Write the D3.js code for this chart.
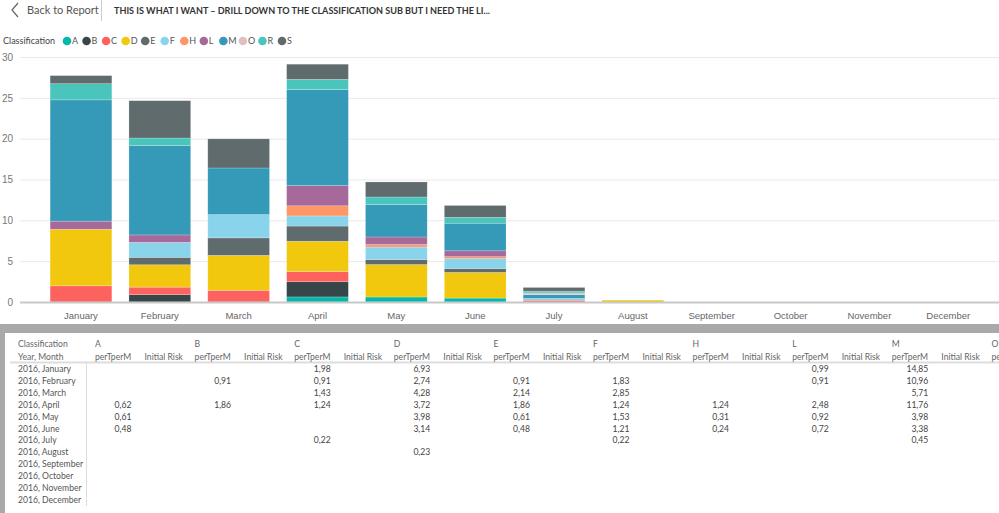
<!DOCTYPE html>
<html>
<head>
<meta charset="utf-8">
<script src="https://cdn.jsdelivr.net/npm/d3@7"></script>
<style>
  html, body { margin: 0; padding: 0; background: #fff; }
  svg { display: block; font-family: "Segoe UI", Lato, "Open Sans", sans-serif; }
</style>
</head>
<body>
<svg id="chart" width="999" height="513"></svg>
<script>
// ---------- DATA ----------
const months = ["January","February","March","April","May","June","July","August","September","October","November","December"];
const categories = ["A","B","C","D","E","F","H","L","M","O","R","S"];
const colors = ["#01B8AA","#374649","#FD625E","#F2C80F","#5F6B6D","#8AD4EB","#FE9666","#A66999","#3599B8","#DFBFBF","#4AC5BB","#5F6B6D"];

const valA = [0, 0, 0, 0.62, 0.61, 0.48, 0, 0, 0, 0, 0, 0];
const valB = [0, 0.91, 0, 1.86, 0, 0, 0, 0, 0, 0, 0, 0];
const valC = [1.98, 0.91, 1.43, 1.24, 0, 0, 0.22, 0, 0, 0, 0, 0];
const valD = [6.93, 2.74, 4.28, 3.72, 3.98, 3.14, 0, 0.23, 0, 0, 0, 0];
const valE = [0, 0.91, 2.14, 1.86, 0.61, 0.48, 0, 0, 0, 0, 0, 0];
const valF = [0, 1.83, 2.85, 1.24, 1.53, 1.21, 0.22, 0, 0, 0, 0, 0];
const valH = [0, 0, 0, 1.24, 0.31, 0.24, 0, 0, 0, 0, 0, 0];
const valL = [0.99, 0.91, 0, 2.48, 0.92, 0.72, 0, 0, 0, 0, 0, 0];
const valM = [14.85, 10.96, 5.71, 11.76, 3.98, 3.38, 0.45, 0, 0, 0, 0, 0];
const valO = [0, 0, 0, 0, 0, 0, 0.22, 0, 0, 0, 0, 0];
const valR = [1.98, 0.91, 0, 1.24, 0.92, 0.72, 0.22, 0, 0, 0, 0, 0];
const valS = [0.99, 4.57, 3.57, 1.86, 1.84, 1.45, 0.45, 0, 0, 0, 0, 0];

const yTicks = [0, 5, 10, 15, 20, 25, 30];
const tableRowLabels = months.map(m => "2016, " + m);
const tableMeasures = ["perTperM", "Initial Risk"];
const titleText = "THIS IS WHAT I WANT – DRILL DOWN TO THE CLASSIFICATION SUB BUT I NEED THE LI...";

// build rows for the stack
const seriesValues = [valA, valB, valC, valD, valE, valF, valH, valL, valM, valO, valR, valS];
const rows = months.map((m, i) => {
  const r = { month: m };
  categories.forEach((c, k) => r[c] = seriesValues[k][i]);
  return r;
});

const W = 999;
const svg = d3.select("#chart");
svg.append("rect").attr("width", W).attr("height", 513).attr("fill", "#fff");

// ---------- HEADER ----------
const head = svg.append("g");
head.append("path").attr("d", "M18,3 L12,10 L18,17").attr("fill", "none").attr("stroke", "#666").attr("stroke-width", 1.2);
head.append("text").attr("x", 27).attr("y", 14).attr("font-size", 11).attr("fill", "#555").text("Back to Report");
head.append("line").attr("x1", 101.5).attr("x2", 101.5).attr("y1", 0).attr("y2", 21).attr("stroke", "#ccc");
head.append("text").attr("x", 114).attr("y", 14).attr("font-size", 8.5).attr("font-weight", "bold")
  .attr("fill", "#333").attr("textLength", 376).attr("lengthAdjust", "spacingAndGlyphs").text(titleText);

// ---------- LEGEND ----------
const color = d3.scaleOrdinal().domain(categories).range(colors);
const leg = svg.append("g");
leg.append("text").attr("x", 3).attr("y", 44).attr("font-size", 9).attr("fill", "#444").text("Classification");
const legX = d3.scalePoint().domain(categories).range([67, 282]);
const li = leg.selectAll("g.li").data(categories).join("g").attr("class", "li")
  .attr("transform", d => `translate(${legX(d)},41)`);
li.append("circle").attr("r", 4.3).attr("fill", d => color(d));
li.append("text").attr("x", 5).attr("y", 3.3).attr("font-size", 9).attr("fill", "#555").text(d => d);

// ---------- CHART ----------
const x = d3.scaleBand().domain(months).range([41.6, 987.6]).paddingInner(0.217).paddingOuter(0.108);
const y = d3.scaleLinear().domain([0, 30]).range([302, 57]);

const yAxis = svg.append("g").attr("transform", "translate(20,0)")
  .call(d3.axisLeft(y).tickValues(yTicks).tickSize(-979).tickPadding(7));
yAxis.select(".domain").remove();
yAxis.selectAll("line").attr("stroke", "#e9e9e9");
yAxis.selectAll("text").attr("fill", "#777").attr("font-size", 10).attr("font-family", null);

const stacked = d3.stack().keys(categories)(rows);
svg.append("g").selectAll("g").data(stacked).join("g")
  .attr("fill", d => color(d.key))
  .selectAll("rect").data(d => d.filter(p => p[1] - p[0] > 0)).join("rect")
  .attr("x", d => x(d.data.month))
  .attr("width", x.bandwidth())
  .attr("y", d => y(d[1]))
  .attr("height", d => y(d[0]) - y(d[1]))
  .attr("stroke", "rgba(255,255,255,0.35)").attr("stroke-width", 0.6);

// baseline
svg.append("line").attr("x1", 20).attr("x2", W).attr("y1", y(0) + 0.5).attr("y2", y(0) + 0.5)
  .attr("stroke", "#c8c8c8").attr("stroke-width", 2);

const xAxis = svg.append("g").attr("transform", `translate(0,${y(0)})`)
  .call(d3.axisBottom(x).tickSize(0).tickPadding(10));
xAxis.select(".domain").remove();
xAxis.selectAll("text").attr("fill", "#666").attr("font-size", 9.5).attr("font-family", null);

// ---------- TABLE ----------
svg.append("rect").attr("x", 0).attr("y", 324).attr("width", W).attr("height", 9).attr("fill", "#a9a9a9");
svg.append("rect").attr("x", 0).attr("y", 324).attr("width", 5).attr("height", 189).attr("fill", "#a9a9a9");

const fmt = d3.formatLocale({ decimal: ",", thousands: ".", grouping: [3], currency: ["", ""] }).format(".2f");
const tbl = svg.append("g").attr("font-size", 8.6);
const colX = d3.scaleLinear().domain([0, 1]).range([95, 194.6]);   // category column start
const rowY = d3.scaleLinear().domain([0, 11]).range([372, 503]);

tbl.append("text").attr("x", 18).attr("y", 347).attr("fill", "#666").text("Classification");
tbl.append("text").attr("x", 18).attr("y", 359.5).attr("fill", "#666").text("Year, Month");
tbl.append("line").attr("x1", 10).attr("x2", W).attr("y1", 362.5).attr("y2", 362.5).attr("stroke", "#ddd").attr("stroke-width", 2);
tbl.append("line").attr("x1", 86.5).attr("x2", 86.5).attr("y1", 363).attr("y2", 506).attr("stroke", "#ddd");

categories.forEach((c, k) => {
  const cx = colX(k);
  if (cx >= W) return;                       // columns scrolled out of view
  tbl.append("text").attr("x", cx).attr("y", 347).attr("fill", "#666").text(c);
  tbl.append("text").attr("x", cx).attr("y", 359.5).attr("fill", "#666").text(tableMeasures[0]);
  if (cx + 49.5 < W) {
    tbl.append("text").attr("x", cx + 49.5).attr("y", 359.5).attr("fill", "#666").text(tableMeasures[1]);
  }
  if (cx + 36.5 <= W) {
    seriesValues[k].forEach((v, i) => {
      if (v > 0) {
        tbl.append("text").attr("x", cx + 36.5).attr("y", rowY(i)).attr("text-anchor", "end")
          .attr("fill", "#444").text(fmt(v));
      }
    });
  }
});
tableRowLabels.forEach((t, i) => {
  tbl.append("text").attr("x", 18).attr("y", rowY(i)).attr("fill", "#555").text(t);
});
</script>
</body>
</html>
